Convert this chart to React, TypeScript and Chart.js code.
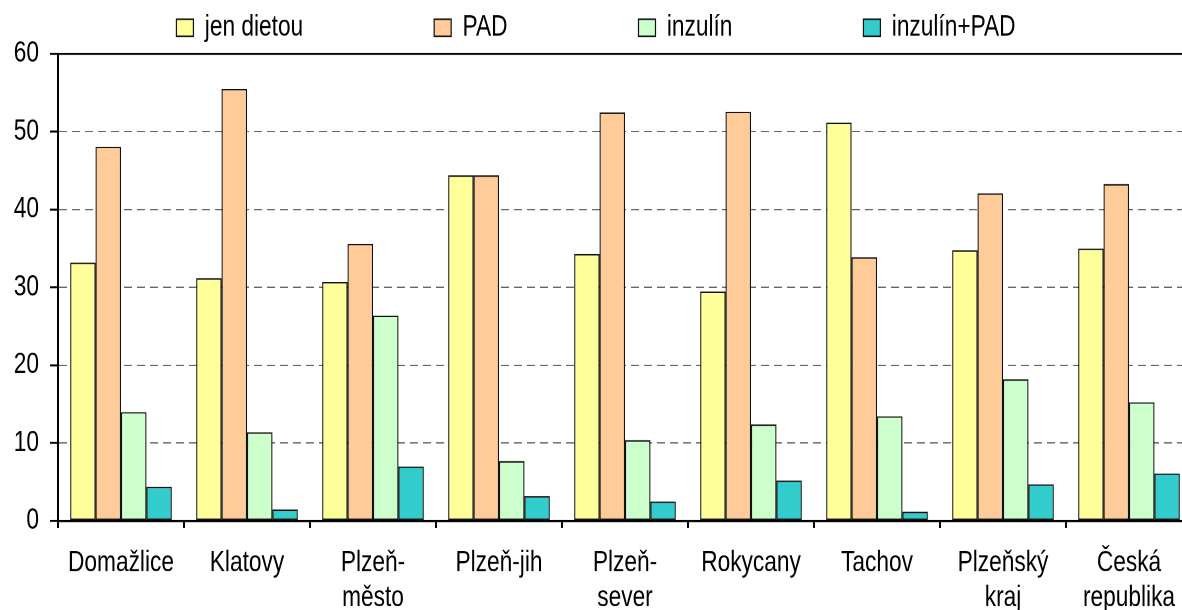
import React, { useEffect, useRef } from "react";
import { Chart, registerables } from "chart.js";

Chart.register(...registerables);

const categories: string[][] = [
  ["Domažlice"],
  ["Klatovy"],
  ["Plzeň-", "město"],
  ["Plzeň-jih"],
  ["Plzeň-", "sever"],
  ["Rokycany"],
  ["Tachov"],
  ["Plzeňský", "kraj"],
  ["Česká", "republika"],
];

const seriesNames = ["jen dietou", "PAD", "inzulín", "inzulín+PAD"];
const jenDietou = [33.2, 31.2, 30.7, 44.4, 34.3, 29.5, 51.2, 34.8, 35.0];
const pad = [48.1, 55.5, 35.6, 44.4, 52.5, 52.6, 33.9, 42.1, 43.3];
const inzulin = [14.0, 11.4, 26.4, 7.7, 10.4, 12.4, 13.45, 18.2, 15.25];
const inzulinPad = [4.4, 1.5, 7.0, 3.2, 2.5, 5.2, 1.2, 4.7, 6.1];
const colors = ["#FFFF99", "#FFCC99", "#CCFFCC", "#33CCCC"];
const yTicks = { min: 0, max: 60, step: 10 };

const FONT = "'Liberation Sans', Arial, sans-serif";
const FS = 22.7;
const CANVAS_W = 1194;
const CANVAS_H = 480;
const K = 610 / CANVAS_H; // vertical stretch
const LEGEND_PAD = 131;
const LEGEND_H = 54 / K;
const LEGEND_Y = 27.7 / K - FS / 2;

const legendTweak = {
  id: "legendTweak",
  beforeInit(chart: any) {
    const legend = chart.legend;
    if (!legend) return;
    const origFit = legend.fit;
    legend.fit = function () {
      origFit.call(this);
      this.height = LEGEND_H;
    };
    const origDraw = legend.draw;
    legend.draw = function (...args: any[]) {
      const t = this.top;
      this.top = t + LEGEND_Y - LEGEND_PAD;
      origDraw.apply(this, args);
      this.top = t;
    };
  },
};

const isEdge = (c: any) => c.tick && (c.tick.value === 60 || c.tick.value === 0);

export default function App() {
  const ref = useRef<HTMLCanvasElement>(null);
  useEffect(() => {
    if (!ref.current) return;
    const data = [jenDietou, pad, inzulin, inzulinPad];
    const chart = new Chart(ref.current, {
      type: "bar",
      data: {
        labels: categories,
        datasets: seriesNames.map((name, i) => ({
          label: name,
          data: data[i],
          backgroundColor: colors[i],
          borderColor: "#111",
          borderWidth: 1.2,
          borderSkipped: false,
          barPercentage: 1,
          categoryPercentage: 0.807,
        })),
      },
      options: {
        responsive: false,
        animation: false,
        devicePixelRatio: 2,
        layout: { padding: { left: 0, right: 2, top: 0, bottom: 0 } },
        plugins: {
          tooltip: { enabled: false },
          legend: {
            position: "top",
            labels: {
              boxWidth: 17,
              boxHeight: 17 / K,
              padding: LEGEND_PAD,
              color: "#000",
              font: { family: FONT, size: FS },
            },
          },
        },
        scales: {
          x: {
            z: 1,
            grid: {
              offset: true,
              drawOnChartArea: false,
              tickLength: 7 / K,
              tickColor: "#000",
              tickWidth: 2,
            },
            border: { color: "#000", width: 2.4 / K },
            ticks: {
              color: "#000",
              autoSkip: false,
              maxRotation: 0,
              padding: 13.7,
              font: { family: FONT, size: FS, lineHeight: 1.22 },
            },
            afterFit(scale: any) {
              scale.height = CANVAS_H - 521 / K;
              scale.paddingLeft = 0;
              scale.paddingRight = 0;
            },
          },
          y: {
            min: yTicks.min,
            max: yTicks.max,
            grid: {
              color: (c: any) => (isEdge(c) ? "#000" : "#666"),
              lineWidth: (c: any) => (isEdge(c) ? 2 / K : 1),
              tickLength: 8,
              tickColor: "#000",
              tickWidth: 2 / K,
            },
            border: {
              color: "#000",
              width: 2,
              dash: (c: any) => (isEdge(c) ? [] : [8, 5]),
            },
            ticks: {
              stepSize: yTicks.step,
              color: "#000",
              padding: 11,
              font: { family: FONT, size: FS },
            },
            afterFit(scale: any) {
              scale.width = 58;
            },
          },
        },
      },
      plugins: [legendTweak],
    } as any);
    return () => chart.destroy();
  }, []);
  return (
    <div style={{ position: "fixed", left: 0, top: 0, width: 1182, height: 610, overflow: "hidden", background: "#fff" }}>
      <div style={{ width: CANVAS_W, height: CANVAS_H, transform: `scaleY(${K})`, transformOrigin: "0 0" }}>
        <canvas ref={ref} width={CANVAS_W} height={CANVAS_H} style={{ display: "block" }} />
      </div>
    </div>
  );
}
